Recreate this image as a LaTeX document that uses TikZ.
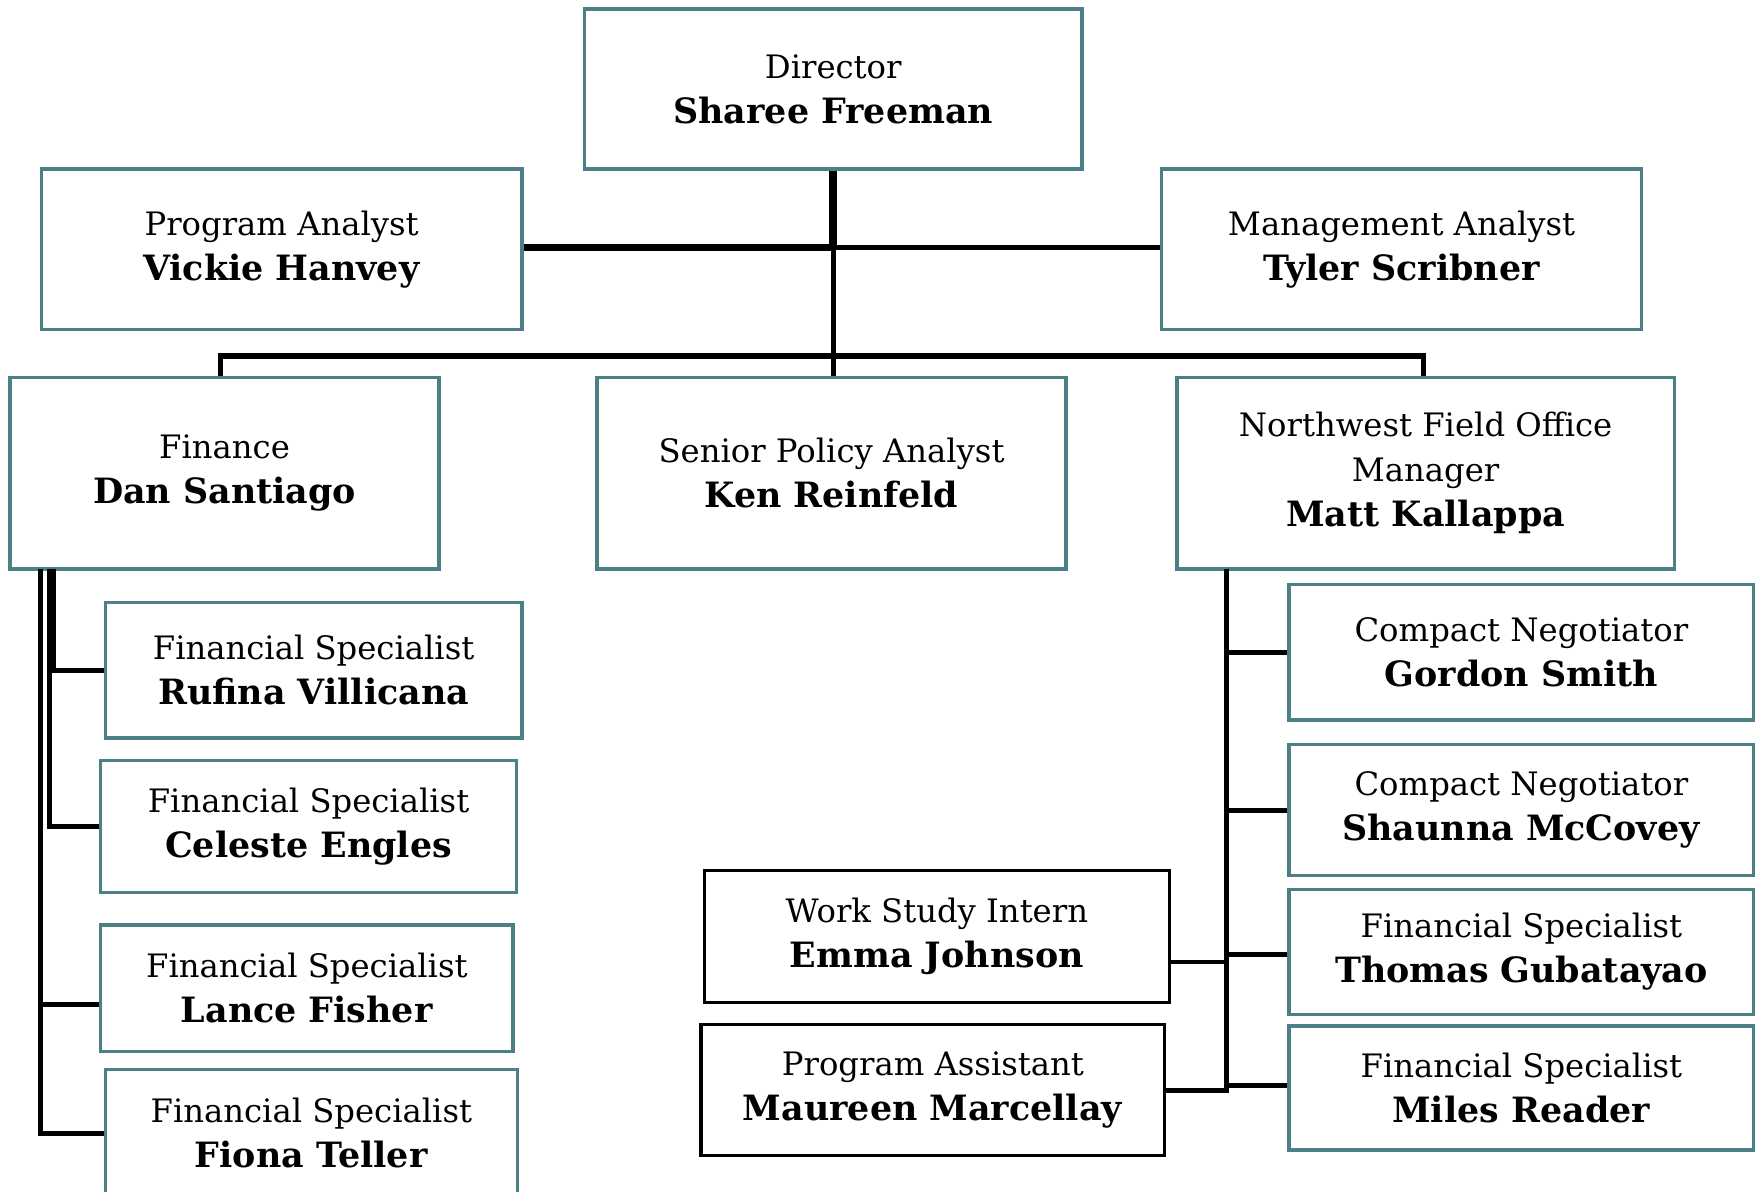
\documentclass[tikz,border=0pt]{standalone}
\usepackage{fontspec}
\setmainfont{DejaVu Serif}[BoldFeatures={Scale=1.08}]
\usepackage{xcolor}
\usetikzlibrary{positioning}

\begin{document}
\begin{tikzpicture}[
    font=\fontsize{8.2}{11.4}\selectfont,
    box/.style={
    	draw=my-teal,
    	line width=0.85pt,
    	inner sep=2pt, align=center, anchor=center
    }, blackbox/.style={
    	box,
    	draw=black
    }, con/.style={
    	line width=1.2pt
    }, thickcon/.style={
    	line width=1.9pt
    }]
    \definecolor{my-teal}{RGB}{74, 128, 134}

    \useasboundingbox (0,0) rectangle (15.68,-10.64);

    %%% TOP
    \node[box, minimum width=4.44cm, minimum height=1.43cm] (director) at (7.44,-0.795) {Director\\\textbf{Sharee Freeman}};
    \node[box, minimum width=4.29cm, minimum height=1.43cm] (prog-analyst) at (2.515,-2.225) {Program Analyst\\\textbf{Vickie Hanvey}};
    \node[box, minimum width=4.29cm, minimum height=1.43cm] (mgmt-analyst) at (12.515,-2.225) {Management Analyst\\\textbf{Tyler Scribner}};

    %%% DIVISIONS
    \node[box, minimum width=3.83cm, minimum height=1.71cm] (finance) at (2.005,-4.225) {Finance\\\textbf{Dan Santiago}};
    \node[box, minimum width=4.19cm, minimum height=1.71cm] (policy) at (7.425,-4.225) {Senior Policy Analyst\\\textbf{Ken Reinfeld}};
    \node[box, minimum width=4.44cm, minimum height=1.71cm] (nwfo) at (12.73,-4.225) {Northwest Field Office\\Manager\\\textbf{Matt Kallappa}};

    %%% FINANCE STAFF
    \node[box, minimum width=3.72cm, minimum height=1.21cm] (rufina) at (2.80,-5.985) {Financial Specialist\\\textbf{Rufina Villicana}};
    \node[box, minimum width=3.71cm, minimum height=1.18cm] (celeste) at (2.755,-7.38) {Financial Specialist\\\textbf{Celeste Engles}};
    \node[box, minimum width=3.68cm, minimum height=1.13cm] (lance) at (2.74,-8.825) {Financial Specialist\\\textbf{Lance Fisher}};
    \node[box, minimum width=3.68cm, minimum height=1.14cm] (fiona) at (2.78,-10.12) {Financial Specialist\\\textbf{Fiona Teller}};

    %%% FIELD OFFICE STAFF
    \node[box, minimum width=4.15cm, minimum height=1.21cm] (gordon) at (13.585,-5.825) {Compact Negotiator\\\textbf{Gordon Smith}};
    \node[box, minimum width=4.15cm, minimum height=1.17cm] (shaunna) at (13.585,-7.235) {Compact Negotiator\\\textbf{Shaunna McCovey}};
    \node[box, minimum width=4.15cm, minimum height=1.12cm] (thomas) at (13.585,-8.50) {Financial Specialist\\\textbf{Thomas Gubatayao}};
    \node[box, minimum width=4.15cm, minimum height=1.11cm] (miles) at (13.585,-9.715) {Financial Specialist\\\textbf{Miles Reader}};
    \node[blackbox, minimum width=4.15cm, minimum height=1.18cm] (emma) at (8.365,-8.36) {Work Study Intern\\\textbf{Emma Johnson}};
    \node[blackbox, minimum width=4.14cm, minimum height=1.17cm] (maureen) at (8.33,-9.735) {Program Assistant\\\textbf{Maureen Marcellay}};

    %%% EDGES
    \coordinate (hub) at (7.44,-2.21);
    \coordinate (bus) at (7.44,-3.18);
    \coordinate (fin-a) at (0.36,-5.08);
    \coordinate (fin-b) at (0.44,-5.08);
    \coordinate (fin-c) at (0.48,-5.08);
    \coordinate (nw-a) at (10.95,-5.08);

    \draw[thickcon] (director.south) -- (hub);
    \draw[con] (hub) -- (director.south |- policy.north);
    \draw[thickcon] (prog-analyst.east |- hub) -- (hub);
    \draw[con] (hub) -- (mgmt-analyst.west |- hub);
    \draw[con, line width=1.4pt] ([xshift=-0.035cm]finance.north) |- (bus) -| ([xshift=-0.02cm]nwfo.north);

    \draw[con] (fin-c) |- (rufina.west);
    \draw[con] (fin-b) |- (celeste.west);
    \draw[con] (fin-a) |- ([yshift=-0.145cm]lance.west);
    \draw[con] (fin-a) |- (fiona.west);

    \draw[con] (nw-a) |- (gordon.west);
    \draw[con] (nw-a) |- (shaunna.west);
    \draw[con] (nw-a) |- ([yshift=-0.025cm]thomas.west);
    \draw[con] (nw-a) |- ([yshift=0.025cm]miles.west);
    \draw[con] (nw-a) |- ([yshift=-0.23cm]emma.east);
    \draw[con] (nw-a) |- (maureen.east);
    %%% EDGES

\end{tikzpicture}
\end{document}
